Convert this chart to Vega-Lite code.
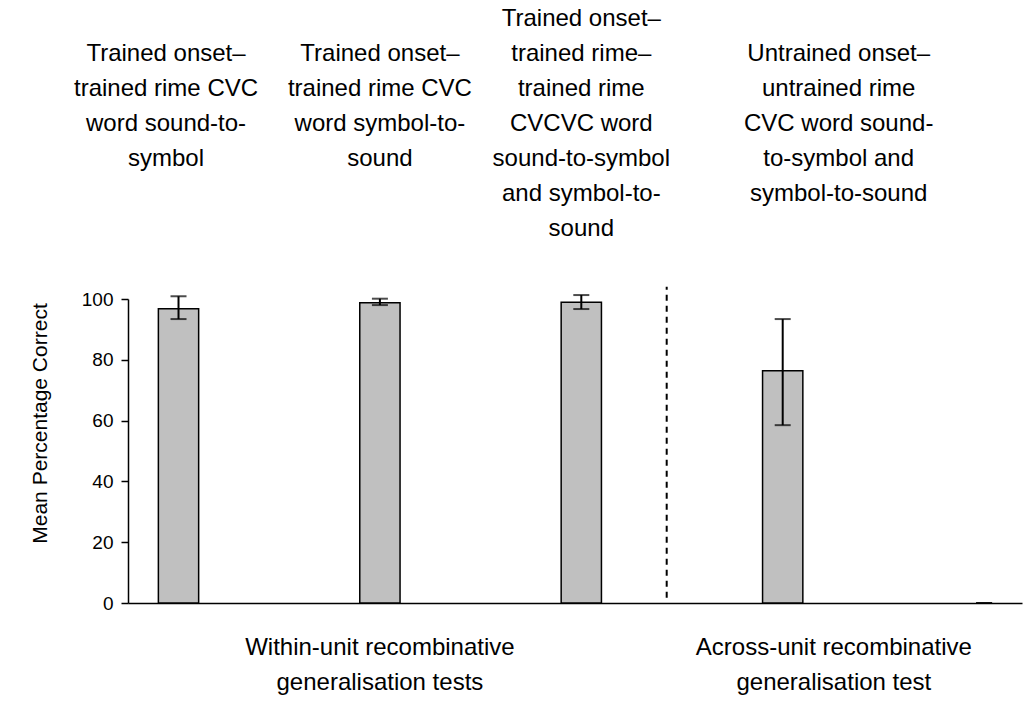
{
  "$schema": "https://vega.github.io/schema/vega-lite/v6.json",
  "width": 894,
  "height": 304,
  "autosize": {"type": "none"},
  "padding": {"left": 128, "top": 299, "right": 2, "bottom": 99},
  "background": "white",
  "config": {"view": {"stroke": null}, "font": "Liberation Sans"},
  "data": {"values": [
    {"cond": "1", "label": "Trained onset–\ntrained rime CVC\nword sound-to-\nsymbol", "mean": 96.8, "lo": 93.4, "hi": 100.9},
    {"cond": "2", "label": "Trained onset–\ntrained rime CVC\nword symbol-to-\nsound", "mean": 98.8, "lo": 98.0, "hi": 100.1},
    {"cond": "3", "label": "Trained onset–\ntrained rime–\ntrained rime\nCVCVC word\nsound-to-symbol\nand symbol-to-\nsound", "mean": 98.9, "lo": 96.7, "hi": 101.3},
    {"cond": "4", "label": "Untrained onset–\nuntrained rime\nCVC word sound-\nto-symbol and\nsymbol-to-sound", "mean": 76.4, "lo": 58.5, "hi": 93.4},
    {"cond": "5", "label": "", "mean": 0, "lo": 0, "hi": 0}
  ]},
  "encoding": {
    "x": {
      "field": "cond", "type": "nominal",
      "scale": {"domain": ["1", "2", "3", "4", "5"], "paddingInner": 0.8, "paddingOuter": 0.1195, "align": 0.631},
      "axis": {"labels": false, "ticks": false, "title": null, "grid": false, "domainColor": "black", "domainWidth": 1.5}
    }
  },
  "layer": [
    {
      "transform": [{"filter": "datum.mean > 0"}],
      "mark": {"type": "bar", "fill": "#c0c0c0", "stroke": "black", "strokeWidth": 1.5},
      "encoding": {
        "y": {
          "field": "mean", "type": "quantitative",
          "scale": {"domain": [0, 100], "nice": false},
          "axis": {
            "values": [0, 20, 40, 60, 80, 100], "grid": false,
            "tickSize": 7, "tickColor": "black", "tickWidth": 1.5,
            "domainColor": "black", "domainWidth": 1.5,
            "labelFont": "Liberation Sans", "labelFontSize": 19, "labelColor": "black", "labelPadding": 8,
            "title": "Mean Percentage Correct",
            "titleFont": "Liberation Sans", "titleFontSize": 21, "titleFontWeight": "normal", "titleColor": "black",
            "titleX": -88, "titleY": 124, "titleAngle": -90, "titleAlign": "center", "titleBaseline": "middle"
          }
        }
      }
    },
    {
      "mark": {"type": "rule", "color": "black", "strokeWidth": 2},
      "encoding": {
        "y": {"field": "lo", "type": "quantitative", "scale": {"domain": [0, 100], "nice": false}, "title": "Mean Percentage Correct"},
        "y2": {"field": "hi"}
      }
    },
    {
      "mark": {"type": "tick", "color": "black", "thickness": 2, "size": 16},
      "encoding": {"y": {"field": "lo", "type": "quantitative", "scale": {"domain": [0, 100], "nice": false}, "title": "Mean Percentage Correct"}}
    },
    {
      "mark": {"type": "tick", "color": "black", "thickness": 2, "size": 16},
      "encoding": {"y": {"field": "hi", "type": "quantitative", "scale": {"domain": [0, 100], "nice": false}, "title": "Mean Percentage Correct"}}
    },
    {
      "data": {"values": [{"divider": "within / across"}]},
      "mark": {"type": "rule", "color": "black", "strokeWidth": 2, "strokeDash": [6, 5]},
      "encoding": {
        "x": {"datum": "3", "type": "nominal", "bandPosition": 2.62},
        "y": {"datum": 1.7, "type": "quantitative", "scale": {"domain": [0, 100], "nice": false}, "title": "Mean Percentage Correct"},
        "y2": {"datum": 104}
      }
    },
    {
      "transform": [{"filter": "datum.cond == '1'"}],
      "mark": {"type": "text", "font": "Liberation Sans", "fontSize": 24, "lineHeight": 35, "lineBreak": "\n", "align": "center", "baseline": "alphabetic", "color": "black"},
      "encoding": {
        "x": {"field": "cond", "type": "nominal", "bandPosition": 0.19},
        "y": {"datum": 178.4, "type": "quantitative", "scale": {"domain": [0, 100], "nice": false}, "title": "Mean Percentage Correct"},
        "text": {"field": "label"}
      }
    },
    {
      "transform": [{"filter": "datum.cond == '2'"}],
      "mark": {"type": "text", "font": "Liberation Sans", "fontSize": 24, "lineHeight": 35, "lineBreak": "\n", "align": "center", "baseline": "alphabetic", "color": "black"},
      "encoding": {
        "x": {"field": "cond", "type": "nominal", "bandPosition": 0.5},
        "y": {"datum": 178.4, "type": "quantitative", "scale": {"domain": [0, 100], "nice": false}, "title": "Mean Percentage Correct"},
        "text": {"field": "label"}
      }
    },
    {
      "transform": [{"filter": "datum.cond == '3'"}],
      "mark": {"type": "text", "font": "Liberation Sans", "fontSize": 24, "lineHeight": 35, "lineBreak": "\n", "align": "center", "baseline": "alphabetic", "color": "black"},
      "encoding": {
        "x": {"field": "cond", "type": "nominal", "bandPosition": 0.5},
        "y": {"datum": 189.9, "type": "quantitative", "scale": {"domain": [0, 100], "nice": false}, "title": "Mean Percentage Correct"},
        "text": {"field": "label"}
      }
    },
    {
      "transform": [{"filter": "datum.cond == '4'"}],
      "mark": {"type": "text", "font": "Liberation Sans", "fontSize": 24, "lineHeight": 35, "lineBreak": "\n", "align": "center", "baseline": "alphabetic", "color": "black"},
      "encoding": {
        "x": {"field": "cond", "type": "nominal", "bandPosition": 1.89},
        "y": {"datum": 178.4, "type": "quantitative", "scale": {"domain": [0, 100], "nice": false}, "title": "Mean Percentage Correct"},
        "text": {"field": "label"}
      }
    },
    {
      "data": {"values": [{"t": "Within-unit recombinative\ngeneralisation tests"}]},
      "mark": {"type": "text", "font": "Liberation Sans", "fontSize": 24, "lineHeight": 35, "lineBreak": "\n", "align": "center", "baseline": "alphabetic", "color": "black"},
      "encoding": {
        "x": {"datum": "2", "type": "nominal", "bandPosition": 0.5},
        "y": {"datum": -17, "type": "quantitative", "scale": {"domain": [0, 100], "nice": false}, "title": "Mean Percentage Correct"},
        "text": {"field": "t"}
      }
    },
    {
      "data": {"values": [{"t": "Across-unit recombinative\ngeneralisation test"}]},
      "mark": {"type": "text", "font": "Liberation Sans", "fontSize": 24, "lineHeight": 35, "lineBreak": "\n", "align": "center", "baseline": "alphabetic", "color": "black"},
      "encoding": {
        "x": {"datum": "4", "type": "nominal", "bandPosition": 1.77},
        "y": {"datum": -17, "type": "quantitative", "scale": {"domain": [0, 100], "nice": false}, "title": "Mean Percentage Correct"},
        "text": {"field": "t"}
      }
    }
  ]
}
